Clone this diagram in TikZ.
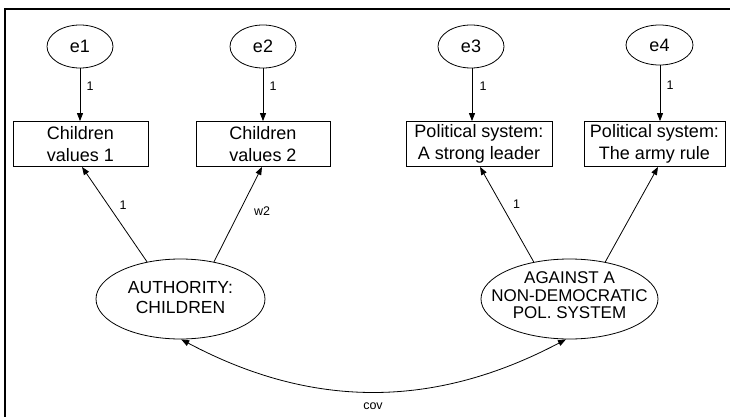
\documentclass[tikz,border=0pt]{standalone}
\usepackage{fontspec}
\setmainfont{Liberation Sans}
\usetikzlibrary{shapes.geometric,arrows.meta}

\tikzset{
  conn/.style={line width=0.8pt, -{Triangle[length=8pt,width=6pt]}},
  covconn/.style={line width=0.8pt, {Triangle[length=8pt,width=6pt]}-{Triangle[length=8pt,width=6pt]}},
  errvar/.style={ellipse, draw, line width=0.8pt, inner sep=0pt,
    font=\fontsize{18}{20}\selectfont},
  obsvar/.style={rectangle, draw, line width=0.8pt, inner sep=0pt, align=center,
    minimum height=45pt, font=\fontsize{18}{21.4}\selectfont},
  latvar/.style={ellipse, draw, line width=0.8pt, inner sep=0pt,
    minimum height=80pt},
  lattext/.style={inner sep=0pt, align=center},
  wlabel/.style={inner sep=0pt, font=\fontsize{12.5}{14}\selectfont},
}

\begin{document}
\begin{tikzpicture}[x=1pt, y=-1pt]
  \useasboundingbox (0,0) rectangle (730,417);

  % frame edges
  \draw[line width=2pt] (730,9.5) -- (5,9.5) -- (5,417);

  % error terms
  \node[errvar, minimum width=66pt, minimum height=43pt] (e1) at (80,46.5) {e1};
  \node[errvar, minimum width=66pt, minimum height=43pt] (e2) at (263,46.5) {e2};
  \node[errvar, minimum width=66pt, minimum height=43pt] (e3) at (471,46.5) {e3};
  \node[errvar, minimum width=67pt, minimum height=40pt] (e4) at (659.5,45) {e4};

  % observed indicators
  \node[obsvar, minimum width=135pt] (o1) at (80.5,144) {Children\\values 1};
  \node[obsvar, minimum width=134pt] (o2) at (263,144) {Children\\values 2};
  \node[obsvar, minimum width=146pt] (o3) at (479,144) {Political system:\\A strong leader};
  \node[obsvar, minimum width=141pt] (o4) at (654.5,144) {Political system:\\The army rule};

  % latent factors
  \node[latvar, minimum width=169pt] (g1) at (180.5,299) {};
  \node[lattext, font=\fontsize{17.5}{20}\selectfont] (g1t) at (180.5,297.5) {AUTHORITY:\\CHILDREN};
  \node[latvar, minimum width=177pt] (g2) at (569.5,299) {};
  \node[lattext, font=\fontsize{17}{17.5}\selectfont] (g2t) at (569.5,295.5) {AGAINST A\\NON-DEMOCRATIC\\POL. SYSTEM};

  % error paths
  \draw[conn] (e1.south) -- (e1.south |- o1.north);
  \draw[conn] (e2.south) -- (e2.south |- o2.north);
  \draw[conn] ([xshift=1pt]e3.south) -- ([xshift=1pt]e3.south |- o3.north);
  \draw[conn] ([xshift=0.5pt]e4.south) -- ([xshift=0.5pt]e4.south |- o4.north);
  \node[wlabel] (l1) at (90,86) {1};
  \node[wlabel] (l2) at (273,86) {1};
  \node[wlabel] (l3) at (483,86) {1};
  \node[wlabel] (l4) at (670,85) {1};

  % factor loadings
  \draw[conn] (g1.132) -- ([xshift=1.5pt]o1.south);
  \draw[conn] (g1.48) -- ([xshift=-1pt]o2.south);
  \draw[conn] (g2.134) -- ([xshift=1pt]o3.south);
  \draw[conn] (g2.46) -- ([xshift=3.5pt]o4.south);
  \node[wlabel] (w1) at (123,205) {1};
  \node[wlabel] (w2) at (262,211) {w2};
  \node[wlabel] (w3) at (516.5,204) {1};

  % factor covariance
  \draw[covconn] (g1.-89) .. controls (312,409) and (434,409) .. (g2.-95);
  \node[wlabel] (cv) at (373,406) {cov};
\end{tikzpicture}
\end{document}
